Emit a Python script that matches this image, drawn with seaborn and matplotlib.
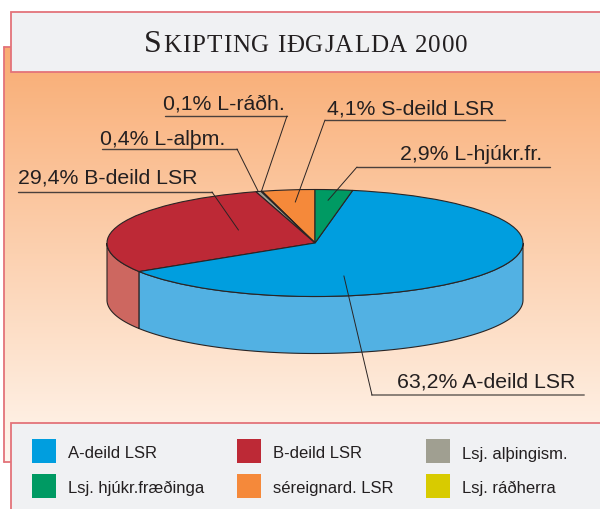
import numpy as np
import matplotlib
matplotlib.use("Agg")
import matplotlib.pyplot as plt
import seaborn as sns
from matplotlib.patches import Rectangle, Polygon

sns.set_theme(style="white")
plt.rcParams['font.family'] = ['Liberation Sans', 'DejaVu Sans']

# --- data (legend order) ---
categories = ["A-deild LSR", "B-deild LSR", "Lsj. alþingism.",
              "Lsj. hjúkr.fræðinga", "séreignard. LSR", "Lsj. ráðherra"]
short_labels = ["A-deild LSR", "B-deild LSR", "L-alþm.",
                "L-hjúkr.fr.", "S-deild LSR", "L-ráðh."]
shares = [63.2, 29.4, 0.4, 2.9, 4.1, 0.1]
colors = ["#009EDF", "#BD2936", "#A09F91", "#009A63", "#F5893A", "#D8CB00"]
side_colors = ["#52B1E3", "#CD6760", "#B9B8AD", "#4DB88F", "#F8A86E", "#E3D94D"]
pie_order = [4, 5, 2, 1, 0, 3]   # drawn counter-clockwise from the top

title = "Skipting iðgjalda 2000"

# label layout: text x, baseline y, underline x0, x1, y, knee x, anchor (fraction of wedge, radius)
label_pos = {
    0: (397, 388, 372, 584, 395, 372, 0.31, 0.63),
    1: (18, 183, 18, 212, 192, 212, 0.38, 0.44),
    2: (100, 145, 102, 237, 149, 237, 0.5, 1.0),
    3: (400, 160, 357, 550, 167, 357, 0.57, 0.80),
    4: (327, 114, 325, 505, 120, 325, 0.48, 0.77),
    5: (163, 109, 165, 287, 116, 287, 0.5, 1.0),
}

# pie geometry in pixels
cx, cy, a, b, depth_px = 315, 243, 208, 53.5, 57
W, H = 600, 509
depth = depth_px / b

border = "#E3737A"
box_fill = "#F0F1F3"
text_col = "#231F20"
edge_col = "#2A2424"

fig = plt.figure(figsize=(W / 100, H / 100), dpi=100)
bg = fig.add_axes([0, 0, 1, 1])
bg.set_xlim(0, W)
bg.set_ylim(H, 0)
bg.axis('off')

# orange gradient panel
top_rgb = np.array([249, 172, 115]) / 255
bot_rgb = np.array([255, 246, 238]) / 255
t = np.linspace(0, 1, 256)[:, None, None]
grad = top_rgb * (1 - t) + bot_rgb * t
bg.imshow(grad, extent=[4, W, 462, 47], aspect='auto', origin='upper', zorder=0)
bg.plot([4, 4], [47, 462], color=border, lw=1.3, zorder=1)
bg.plot([4, 12], [47, 47], color=border, lw=1.3, zorder=1)
bg.plot([4, 12], [462, 462], color=border, lw=1.3, zorder=1)

# title box and legend box
bg.add_patch(Rectangle((11, 12), 620, 60, facecolor=box_fill, edgecolor=border, lw=1.3, zorder=2))
bg.add_patch(Rectangle((11, 423), 620, 100, facecolor=box_fill, edgecolor=border, lw=1.3, zorder=2))

# title in small caps, letter-spaced
fig.canvas.draw()
rend = fig.canvas.get_renderer()
chars = []
for k, ch in enumerate(title):
    size = 23 if k == 0 else 18
    tt = bg.text(0, 52, ch.upper(), fontsize=size, family='Liberation Serif',
                 color=text_col, va='baseline', zorder=3)
    w = tt.get_window_extent(rend).width if ch != ' ' else 5.5
    chars.append((tt, w))
tracking = 1.0
total = sum(w for _, w in chars) + tracking * (len(chars) - 1)
xpos = 306 - total / 2
for tt, w in chars:
    tt.set_x(xpos)
    xpos += w + tracking

# legend
col_x = [32, 237, 426]
row_y = [439, 474]
for k, cat in enumerate(categories):
    r, c = divmod(k, 3)
    bg.add_patch(Rectangle((col_x[c], row_y[r]), 24, 24, facecolor=colors[k],
                           edgecolor='none', zorder=3))
    bg.text(col_x[c] + 36, row_y[r] + 19.5, cat, fontsize=12, color=text_col,
            va='baseline', zorder=3)

# --- pie axes: circle in data units, squashed to an ellipse on screen ---
ax = fig.add_axes([0, 0, 1, 1])
ax.patch.set_alpha(0)
vals = np.array([shares[i] for i in pie_order])
edges = 90 + 360 * np.concatenate([[0], np.cumsum(vals / vals.sum())])

# front side walls
for j, i in enumerate(pie_order):
    lo, hi = max(edges[j], 180), min(edges[j + 1], 360)
    if hi <= lo:
        continue
    th = np.radians(np.linspace(lo, hi, 200))
    xs = np.cos(th)
    ys = np.sin(th)
    pts = np.column_stack([np.concatenate([xs, xs[::-1]]),
                           np.concatenate([ys, ys[::-1] - depth])])
    ax.add_patch(Polygon(pts, closed=True, facecolor=side_colors[i],
                         edgecolor=edge_col, lw=0.8, zorder=1))

ax.pie(vals, colors=[colors[i] for i in pie_order], startangle=90, counterclock=True,
       wedgeprops=dict(edgecolor=edge_col, linewidth=0.8, zorder=2))
ax.set_aspect('auto')
ax.set_xlim(-cx / a, (W - cx) / a)
ax.set_ylim(-(H - cy) / b, cy / b)
ax.axis('off')

# labels with leader lines
for j, i in enumerate(pie_order):
    tx, ty, lx0, lx1, ly, kx, frac, rad = label_pos[i]
    ang = np.radians(edges[j] + frac * (edges[j + 1] - edges[j]))
    pct = f"{shares[i]:.1f}".replace('.', ',') + "% " + short_labels[i]
    bg.text(tx, ty, pct, fontsize=15.3, color=text_col, va='baseline', zorder=3)
    bg.plot([lx0, lx1], [ly, ly], color="#4A403C" if i else "#8A8078",
            lw=1.0 if i else 1.4, zorder=3)
    ax.annotate("", xy=(rad * np.cos(ang), rad * np.sin(ang)), xycoords='data',
                xytext=(kx, ly), textcoords=bg.transData,
                arrowprops=dict(arrowstyle='-', color="#2A2424", lw=0.7,
                                shrinkA=0, shrinkB=0), zorder=5)

fig.savefig("out.png", dpi=100)
